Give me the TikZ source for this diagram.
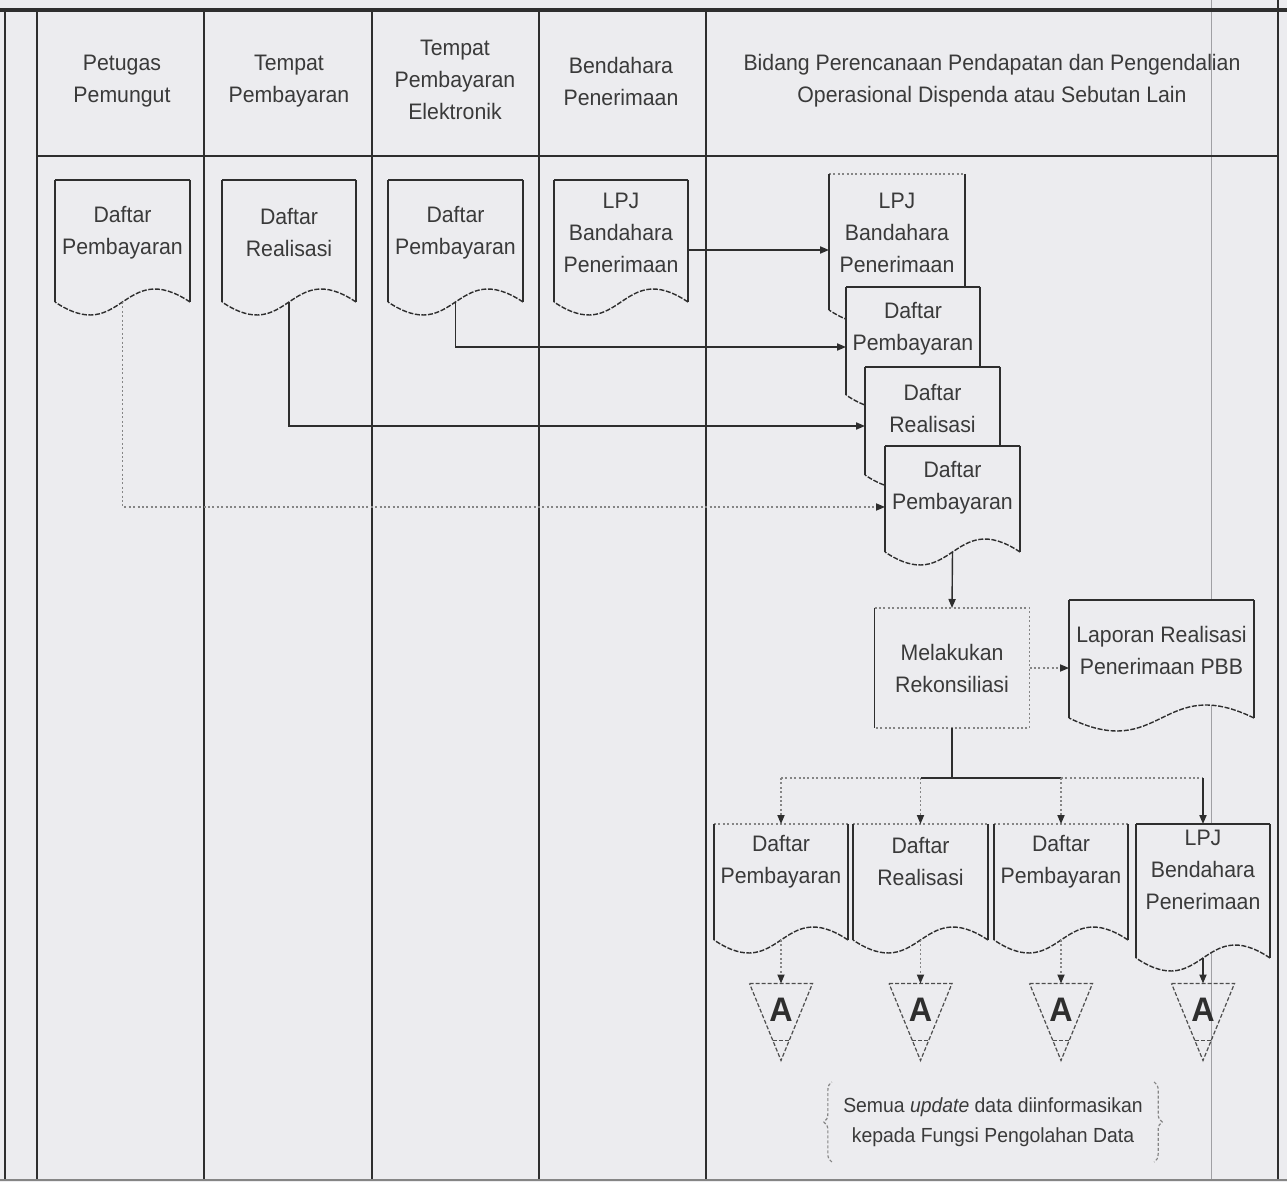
\documentclass[tikz,border=0pt]{standalone}
\usepackage{fontspec}
\setmainfont[FakeStretch=0.95]{Liberation Sans}
\usetikzlibrary{arrows.meta,calc,decorations.pathreplacing}

\definecolor{paper}{HTML}{ECECEF}
\definecolor{ink}{HTML}{2E2E2E}
\definecolor{inkt}{HTML}{3A3A3A}
\definecolor{faint}{HTML}{858585}
\definecolor{hair}{HTML}{A0A0A4}

\tikzset{
  laneline/.style={draw=ink, line width=1pt},
  topline/.style={draw=ink, line width=1.6pt},
  txt/.style={font=\fontsize{11.2}{16}\selectfont, text=inkt, align=center, inner sep=0pt},
  notetxt/.style={font=\fontsize{10.2}{15}\selectfont, text=inkt, align=center, inner sep=0pt},
  shapebox/.style={rectangle, inner sep=0pt, outer sep=0pt, draw=none},
  side/.style={draw=ink, line width=0.7pt},
  dotedge/.style={draw=faint, line width=0.6pt, dash pattern=on 1pt off 1.2pt},
  thickedge/.style={draw=ink, line width=1.4pt},
  wave/.style={draw=ink, line width=0.7pt, dash pattern=on 2.5pt off 0.8pt},
  conn/.style={draw=ink, line width=0.7pt},
  dconn/.style={draw=faint, line width=0.6pt, dash pattern=on 1pt off 1.2pt},
  arrowend/.style={-{Triangle[length=4.5pt,width=3.6pt,color=ink]}},
  tri/.style={draw=ink!85, line width=0.6pt, dash pattern=on 2pt off 1pt},
  afont/.style={font=\fontsize{17}{17}\selectfont\bfseries, text=ink, inner sep=0pt},
  bracestyle/.style={draw=faint, line width=0.6pt, dash pattern=on 1.5pt off 1pt,
    decorate, decoration={brace, amplitude=4pt}},
}

% Document symbol: [top edge style]{name}{left}{top}{width}{height}{text y}{text}
\newcommand\docshape[8][side]{%
  \pgfmathsetmacro\dR{#3+#5}%
  \pgfmathsetmacro\dB{#4+#6}%
  \pgfmathsetmacro\dM{#3+#5/2}%
  \pgfmathsetmacro\dU{\dB-45}%
  \pgfmathsetmacro\dD{\dB+45}%
  \fill[paper] (#3,#4) -- (\dR,#4) -- (\dR,\dB) .. controls (\dM,\dU) and (\dM,\dD) .. (#3,\dB) -- cycle;
  \draw[#1] (#3,#4) -- (\dR,#4);
  \draw[side] (\dR,#4) -- (\dR,\dB);
  \draw[side] (#3,#4) -- (#3,\dB);
  \draw[wave] (\dR,\dB) .. controls (\dM,\dU) and (\dM,\dD) .. (#3,\dB);
  \node[shapebox, minimum width=#5*0.5pt, minimum height=#6*0.5pt] (#2) at (\dM,{#4+#6/2}) {};
  \node[txt] (#2-t) at (\dM,#7) {#8};
}

% Off-page connector triangle: {name}{x}
\newcommand\offpage[2]{%
  \node[shapebox, minimum width=31.5pt, minimum height=38.5pt] (#1) at (#2,1022) {};
  \draw[tri] (#1.north west) -- (#1.north east) -- (#1.south) -- cycle;
  \draw[tri] ($(#1.south)!0.26!(#1.north west)$) -- ($(#1.south)!0.26!(#1.north east)$);
  \node[afont] (#1-t) at ([yshift=6pt]#1.center) {A};
}

\begin{document}
\begin{tikzpicture}[x=0.5pt,y=-0.5pt]
  \useasboundingbox (0,0) rectangle (1287,1182);
  \fill[paper] (0,0) rectangle (1287,1182);

  % swimlane frame
  \draw[hair, line width=0.4pt] (1211,0) -- (1211,1180);
  \draw[laneline] (5,10) -- (5,1180);
  \draw[laneline] (37,10) -- (37,1180);
  \draw[laneline] (204,10) -- (204,1180);
  \draw[laneline] (372,10) -- (372,1180);
  \draw[laneline] (539,10) -- (539,1180);
  \draw[laneline] (706,10) -- (706,1180);
  \draw[laneline] (1278,0) -- (1278,1180);
  \draw[topline] (0,10) -- (1287,10);
  \draw[laneline] (37,156) -- (1278,156);
  \draw[draw=faint, line width=1pt] (0,1180) -- (1287,1180);

  % lane headings
  \node[txt] (h1) at (122,81) {Petugas\\Pemungut};
  \node[txt] (h2) at (289,81) {Tempat\\Pembayaran};
  \node[txt] (h3) at (455,80) {Tempat\\Pembayaran\\Elektronik};
  \node[txt] (h4) at (621,81) {Bendahara\\Penerimaan};
  \node[txt] (h5) at (992,81) {Bidang Perencanaan Pendapatan dan Pengendalian\\Operasional Dispenda atau Sebutan Lain};

  % source documents
  \docshape{d1}{55}{180}{135}{122}{233}{Daftar\\Pembayaran}
  \docshape{d2}{222}{180}{134}{122}{233}{Daftar\\Realisasi}
  \docshape{d3}{388}{180}{135}{122}{233}{Daftar\\Pembayaran}
  \docshape{d4}{554}{180}{134}{122}{233}{LPJ\\Bandahara\\Penerimaan}

  % received documents (stacked)
  \docshape[dotedge]{s1}{829}{174}{136}{136}{233}{LPJ\\Bandahara\\Penerimaan}
  \docshape{s2}{846}{287}{134}{108}{329}{Daftar\\Pembayaran}
  \docshape{s3}{865}{367}{135}{108}{409}{Daftar\\Realisasi}
  \docshape{s4}{885}{446}{135}{106}{488}{Daftar\\Pembayaran}

  % reconciliation process
  \node[shapebox, txt, minimum width=77.5pt, minimum height=60pt] (proc) at (952,668) {Melakukan\\Rekonsiliasi};
  \draw[side] (proc.north west) -- (proc.south west);
  \draw[dotedge] (proc.north west) -- (proc.north east) -- (proc.south east) -- (proc.south west);

  % report
  \docshape[thickedge]{lap}{1069}{600}{185}{118}{650}{Laporan Realisasi\\Penerimaan PBB}

  % output documents
  \docshape[dotedge]{b1}{714}{824}{134}{116}{862}{Daftar\\Pembayaran}
  \docshape[dotedge]{b2}{853}{824}{135}{116}{862}{Daftar\\Realisasi}
  \docshape[dotedge]{b3}{994}{824}{134}{116}{862}{Daftar\\Pembayaran}
  \docshape[thickedge]{b4}{1136}{824}{134}{134}{870}{LPJ\\Bendahara\\Penerimaan}

  % off-page connectors
  \offpage{t1}{781}
  \offpage{t2}{920.5}
  \offpage{t3}{1061}
  \offpage{t4}{1203}

  % routing rows
  \coordinate (r1) at (0,250);
  \coordinate (r2) at (0,347);
  \coordinate (r3) at (0,426);
  \coordinate (r4) at (0,507);
  \coordinate (bus) at (0,778);

  % flows into the stack
  \draw[conn,arrowend] (d4.east |- r1) -- (s1.west |- r1);
  \draw[conn,arrowend] (d3.south) |- (s2.west |- r2);
  \draw[conn,arrowend] (d2.south) |- (s3.west |- r3);
  \draw[dconn,arrowend] (d1.south) |- (s4.west |- r4);

  % reconciliation
  \draw[conn,arrowend] (s4.south) -- (proc.north);
  \draw[dconn,arrowend] (proc.east) -- (lap.west |- proc.east);
  \draw[thickedge] (proc.south) -- (proc.south |- bus);
  \draw[dconn] (b1.north |- bus) -- (b2.north |- bus);
  \draw[thickedge] (b2.north |- bus) -- (b3.north |- bus);
  \draw[dconn] (b3.north |- bus) -- (b4.north |- bus);
  \draw[dconn,arrowend] (b1.north |- bus) -- (b1.north);
  \draw[dconn,arrowend] (b2.north |- bus) -- (b2.north);
  \draw[dconn,arrowend] (b3.north |- bus) -- (b3.north);
  \draw[conn,arrowend] (b4.north |- bus) -- (b4.north);

  % to off-page connectors
  \draw[dconn,arrowend] (b1.south) -- (t1.north);
  \draw[dconn,arrowend] (b2.south) -- (t2.north);
  \draw[dconn,arrowend] (b3.south) -- (t3.north);
  \draw[conn,arrowend] (b4.south) -- (t4.north);

  % note
  \node[notetxt] (note) at (993,1122) {Semua \textit{update} data diinformasikan\\kepada Fungsi Pengolahan Data};
  \draw[bracestyle] ($(note.west)+(-11,40)$) -- ($(note.west)+(-11,-40)$);
  \draw[bracestyle] ($(note.east)+(11,-40)$) -- ($(note.east)+(11,40)$);
\end{tikzpicture}
\end{document}
